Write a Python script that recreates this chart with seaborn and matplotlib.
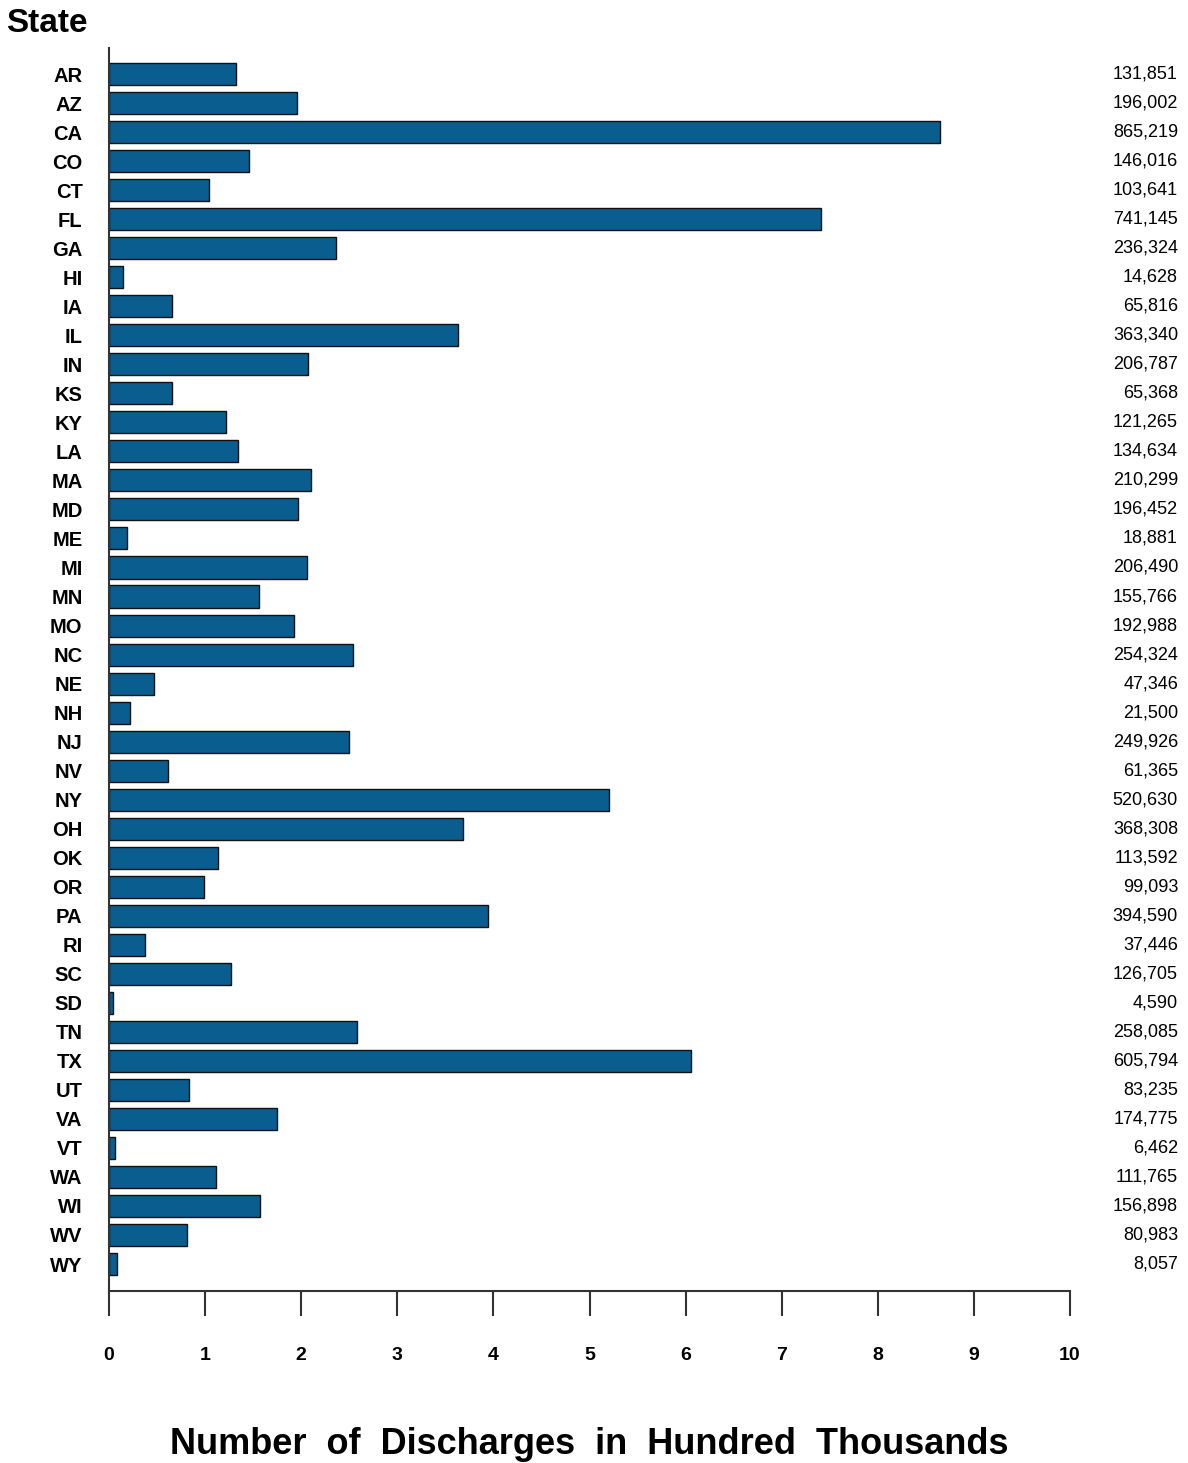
import matplotlib
matplotlib.use("Agg")
import matplotlib.pyplot as plt
import seaborn as sns
import pandas as pd
import matplotlib.transforms as mtransforms

states = ["AR","AZ","CA","CO","CT","FL","GA","HI","IA","IL","IN","KS","KY","LA",
          "MA","MD","ME","MI","MN","MO","NC","NE","NH","NJ","NV","NY","OH","OK",
          "OR","PA","RI","SC","SD","TN","TX","UT","VA","VT","WA","WI","WV","WY"]
discharges = [131851,196002,865219,146016,103641,741145,236324,14628,65816,363340,
              206787,65368,121265,134634,210299,196452,18881,206490,155766,192988,
              254324,47346,21500,249926,61365,520630,368308,113592,99093,394590,
              37446,126705,4590,258085,605794,83235,174775,6462,111765,156898,
              80983,8057]
x_ticks = [0,1,2,3,4,5,6,7,8,9,10]

df = pd.DataFrame({"State": states, "Discharges": discharges})
df["Hundred Thousands"] = df["Discharges"] / 100000.0

sns.set_theme(style="white")
plt.rcParams["font.family"] = ["Liberation Sans", "DejaVu Sans"]
plt.rcParams["text.color"] = "black"
plt.rcParams["xtick.color"] = "black"
plt.rcParams["ytick.color"] = "black"
plt.rcParams["axes.labelcolor"] = "black"

fig = plt.figure(figsize=(11.88, 14.63), dpi=100)
ax = fig.add_axes([109/1188, 1-1291/1463, (1070-109)/1188, (1291-48)/1463])

sns.barplot(data=df, x="Hundred Thousands", y="State", orient="h",
            color="#0a5e8f", saturation=1, edgecolor="#111111", linewidth=1.0,
            width=0.76, ax=ax)

ax.set_xlim(0, 10)
ax.set_ylim(41.93, -0.9)
ax.set_xticks(x_ticks)
ax.set_xticklabels([str(t) for t in x_ticks], fontsize=14, fontweight="bold")
ax.tick_params(axis="x", direction="out", length=18, width=1.5, color="#333333",
               pad=22, bottom=True)
ax.tick_params(axis="y", length=0, pad=19)
for lab in ax.get_yticklabels():
    lab.set_fontsize(14.5)
    lab.set_fontweight("bold")

for s in ["top", "right"]:
    ax.spines[s].set_visible(False)
for s in ["left", "bottom"]:
    ax.spines[s].set_color("#333333")
    ax.spines[s].set_linewidth(1.5)

ax.set_ylabel("")
ax.set_xlabel("Number  of  Discharges  in  Hundred  Thousands", fontsize=26,
              fontweight="bold", labelpad=46)

trans = mtransforms.blended_transform_factory(fig.transFigure, ax.transData)
for i, v in enumerate(discharges):
    ax.text(1178/1188, i, f"{v:,}", transform=trans, ha="right", va="center",
            fontsize=13, clip_on=False)

fig.text(6/1188, 1-24/1463, "State", fontsize=24, fontweight="bold",
         ha="left", va="center")

fig.savefig("out.png", dpi=100)
